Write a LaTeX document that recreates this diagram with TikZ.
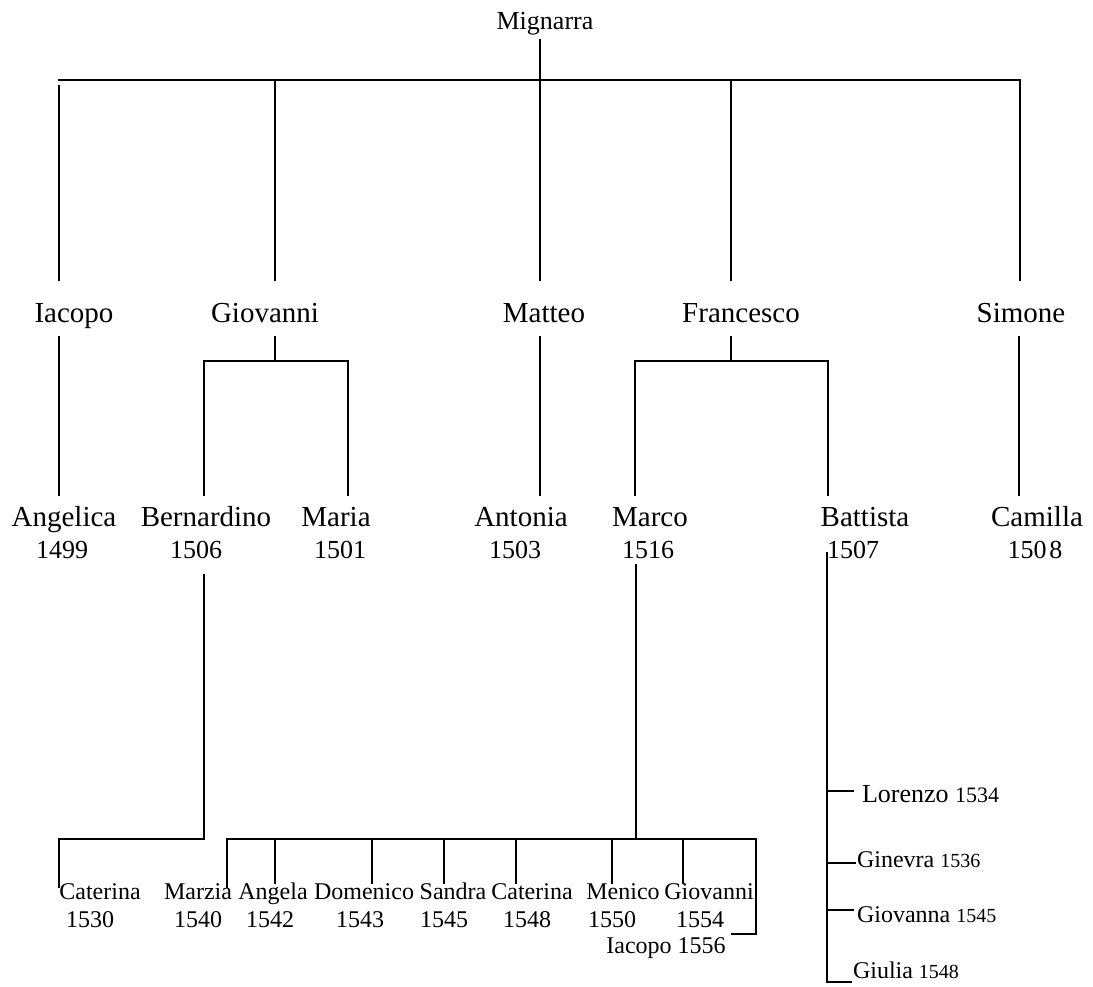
\documentclass[tikz,border=0pt]{standalone}
\usepackage{fontspec}
\setmainfont{Liberation Serif}
\newcommand\smallyear[1]{{\fontsize{20}{20}\selectfont #1}}
\begin{document}
\begin{tikzpicture}[x=1pt,y=-1pt,line width=1.6pt,
  lbl/.style={anchor=base,inner sep=0pt,outer sep=0pt},
  gen0/.style={lbl,font=\fontsize{26}{26}\selectfont},
  gen1/.style={lbl,font=\fontsize{29}{29}\selectfont},
  yr1/.style={lbl,font=\fontsize{26}{26}\selectfont},
  gen3/.style={lbl,font=\fontsize{24}{24}\selectfont},
  side/.style={lbl,anchor=base west,font=\fontsize{24}{24}\selectfont},
  link/.style={draw=black,line cap=rect}]
\useasboundingbox (0,0) rectangle (1093,987);

% ---- founder ----
\node[gen0] (mignarra) at (545,30) {Mignarra};

% ---- children ----
\node[gen1] (iacopo)    at (74,323)   {Iacopo};
\node[gen1] (giovanni)  at (265,323)  {Giovanni};
\node[gen1] (matteo)    at (544,323)  {Matteo};
\node[gen1] (francesco) at (741,323)  {Francesco};
\node[gen1] (simone)    at (1021,323) {Simone};

% ---- grandchildren ----
\node[gen1] (angelica)   at (64,526)   {Angelica};
\node[gen1] (bernardino) at (206,526)  {Bernardino};
\node[gen1] (maria)      at (336,526)  {Maria};
\node[gen1] (antonia)    at (521,526)  {Antonia};
\node[gen1] (marco)      at (650,526)  {Marco};
\node[gen1] (battista)   at (865,526)  {Battista};
\node[gen1] (camilla)    at (1037,526) {Camilla};
\node[yr1] (y-angelica)   at (62,558)   {1499};
\node[yr1] (y-bernardino) at (196,558)  {1506};
\node[yr1] (y-maria)      at (340,558)  {1501};
\node[yr1] (y-antonia)    at (515,558)  {1503};
\node[yr1] (y-marco)      at (648,558)  {1516};
\node[yr1] (y-battista)   at (853,558)  {1507};
\node[yr1] (y-camilla)    at (1035,558) {150\kern3pt 8};

% ---- great-grandchildren (Bernardino, Marco) ----
\node[gen3] (caterinaA) at (100,899) {Caterina};
\node[gen3] (marzia)    at (198,899) {Marzia};
\node[gen3] (angela)    at (273,899) {Angela};
\node[gen3] (domenico)  at (364,899) {Domenico};
\node[gen3] (sandra)    at (453,899) {Sandra};
\node[gen3] (caterinaB) at (532,899) {Caterina};
\node[gen3] (menico)    at (623,899) {Menico};
\node[gen3] (giovanniB) at (709,899) {Giovanni};
\node[gen3] (y-caterinaA) at (90,927)  {1530};
\node[gen3] (y-marzia)    at (198,927) {1540};
\node[gen3] (y-angela)    at (270,927) {1542};
\node[gen3] (y-domenico)  at (360,927) {1543};
\node[gen3] (y-sandra)    at (444,927) {1545};
\node[gen3] (y-caterinaB) at (527,927) {1548};
\node[gen3] (y-menico)    at (612,927) {1550};
\node[gen3] (y-giovanniB) at (700,927) {1554};
\node[gen3] (iacopoB)     at (666,953) {Iacopo 1556};

% ---- great-grandchildren (Battista) ----
\node[side,font=\fontsize{26}{26}\selectfont] (lorenzo) at (862,802)
  {Lorenzo {\fontsize{22}{22}\selectfont 1534}};
\node[side] (ginevra)  at (857,867) {Ginevra \smallyear{1536}};
\node[side] (giovanna) at (857,922) {Giovanna \smallyear{1545}};
\node[side] (giulia)   at (853,978) {Giulia \smallyear{1548}};

% ---- junction points ----
\coordinate (m-top) at (540,40);
\coordinate (bus0-l) at (59,80);
\coordinate (bus0-r) at (1020,80);
\coordinate (iac-a) at (59,86);   \coordinate (iac-b) at (59,280);
\coordinate (gio-a) at (275,80);  \coordinate (gio-b) at (275,280);
\coordinate (mat-b) at (540,280);
\coordinate (fra-a) at (731,80);  \coordinate (fra-b) at (731,280);
\coordinate (sim-b) at (1020,280);

\draw[link] (bus0-l) -- (bus0-r);
\draw[link] (m-top) -- (mat-b);
\draw[link] (iac-a) -- (iac-b);
\draw[link] (gio-a) -- (gio-b);
\draw[link] (fra-a) -- (fra-b);
\draw[link] (bus0-r) -- (sim-b);

% second level
\coordinate (iac-c) at (59,337);   \coordinate (ang-t) at (59,495);
\coordinate (gio-c) at (275,337);  \coordinate (gio-j) at (275,361);
\coordinate (ber-t) at (204,495);  \coordinate (mar-t) at (348,495);
\coordinate (mat-c) at (540,337);  \coordinate (ant-t) at (540,495);
\coordinate (fra-c) at (731,337);  \coordinate (fra-j) at (731,361);
\coordinate (mrc-t) at (635,495);  \coordinate (bat-t) at (828,495);
\coordinate (sim-c) at (1019,337); \coordinate (cam-t) at (1019,495);

\draw[link] (iac-c) -- (ang-t);
\draw[link] (gio-c) -- (gio-j);
\draw[link] (ber-t) |- (gio-j) -| (mar-t);
\draw[link] (mat-c) -- (ant-t);
\draw[link] (fra-c) -- (fra-j);
\draw[link] (mrc-t) |- (fra-j) -| (bat-t);
\draw[link] (sim-c) -- (cam-t);

% third level: Bernardino
\coordinate (ber-c) at (204,575);
\coordinate (ber-j) at (204,839);
\coordinate (catA-t) at (59,887);
\draw[link] (ber-c) -- (ber-j) -| (catA-t);

% third level: Marco
\coordinate (mrc-c) at (636,565);
\coordinate (mrc-j) at (636,839);
\coordinate (bus3-l) at (227,839);
\coordinate (bus3-r) at (756,839);
\draw[link] (mrc-c) -- (mrc-j);
\draw[link] (bus3-l) -- (bus3-r);
\coordinate (mrz-t) at (227,887);
\draw[link] (bus3-l) -- (mrz-t);
\foreach \x/\n in {275/ang,372/dom,444/san,516/catB,612/men,683/gvn}{
  \coordinate (\n-j) at (\x,839);
  \coordinate (\n-t) at (\x,883);
  \draw[link] (\n-j) -- (\n-t);
}
\coordinate (iacB-k) at (756,934);
\coordinate (iacB-t) at (732,934);
\draw[link] (bus3-r) -- (iacB-k) -- (iacB-t);

% third level: Battista
\coordinate (bat-c) at (827,553);
\coordinate (bat-b) at (827,982);
\coordinate (giu-t) at (851,982);
\draw[link] (bat-c) -- (bat-b) -- (giu-t);
\coordinate (lor-j) at (827,791); \coordinate (lor-t) at (853,791);
\coordinate (gin-j) at (827,863); \coordinate (gin-t) at (855,863);
\coordinate (gva-j) at (827,910); \coordinate (gva-t) at (853,910);
\draw[link] (lor-j) -- (lor-t);
\draw[link] (gin-j) -- (gin-t);
\draw[link] (gva-j) -- (gva-t);
\end{tikzpicture}
\end{document}
